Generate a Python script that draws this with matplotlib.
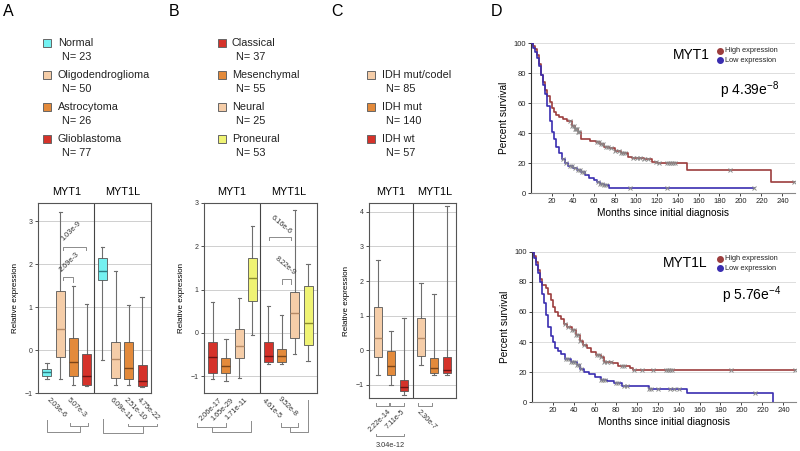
import matplotlib
matplotlib.use("Agg")
import matplotlib.pyplot as plt
import numpy as np
from matplotlib.patches import Rectangle

plt.rcParams['font.family'] = ['Liberation Sans', 'DejaVu Sans']
plt.rcParams['mathtext.default'] = 'regular'

# ---- colours
CYAN, PEACH, ORANGE, RED, YELLOW = '#74F1F1', '#F5CDA8', '#E38A3B', '#D5322A', '#EFF374'
MED = {CYAN: '#2C7F86', PEACH: '#B58A66', ORANGE: '#7A4418', RED: '#6A1414', YELLOW: '#8A8C2E'}
GRAY = '#8c8c8c'
HIGH_C, LOW_C = '#9C3D3D', '#3A2DB0'

# ---- legends
a_names = ["Normal", "Oligodendroglioma", "Astrocytoma", "Glioblastoma"]
a_n = [23, 50, 26, 77]
b_names = ["Classical", "Mesenchymal", "Neural", "Proneural"]
b_n = [37, 55, 25, 53]
c_names = ["IDH mut/codel", "IDH mut", "IDH wt"]
c_n = [85, 140, 57]

# ---- box stats (MYT1 groups then MYT1L groups)
a_lo = [-0.68, -0.67, -0.81, -0.83, -0.23, -0.81, -0.81, -0.85]
a_q1 = [-0.60, -0.16, -0.60, -0.81, 1.62, -0.64, -0.67, -0.84]
a_med = [-0.50, 0.48, -0.29, -0.60, 1.84, -0.22, -0.42, -0.73]
a_q3 = [-0.45, 1.38, 0.27, -0.10, 2.13, 0.19, 0.19, -0.36]
a_hi = [-0.31, 3.22, 1.50, 1.06, 2.40, 1.84, 1.04, 1.24]

b_lo = [-1.07, -1.12, -1.04, -0.04, -0.73, -0.73, -0.49, -0.64]
b_q1 = [-0.93, -0.93, -0.59, 0.73, -0.67, -0.67, -0.13, -0.29]
b_med = [-0.56, -0.77, -0.31, 1.26, -0.53, -0.54, 0.46, 0.22]
b_q3 = [-0.22, -0.57, 0.08, 1.73, -0.21, -0.37, 0.94, 1.09]
b_hi = [0.72, -0.14, 0.81, 2.47, 0.61, 0.41, 2.83, 1.60]

c_lo = [-0.73, -1.00, -1.29, -0.44, -0.71, -0.71]
c_q1 = [-0.20, -0.72, -1.18, -0.18, -0.68, -0.67]
c_med = [0.36, -0.46, -1.08, 0.34, -0.52, -0.57]
c_q3 = [1.24, -0.03, -0.86, 0.93, -0.24, -0.20]
c_hi = [2.60, 0.56, 0.92, 1.94, 1.62, 4.16]

# ---- survival curves (months, percent)
t1_high = [0, 2, 4, 6, 8, 10, 12, 14, 16, 18, 20, 22, 24, 27, 31, 35, 39, 42, 45, 48, 57, 62, 66, 70,
           75, 80, 86, 93, 97, 108, 116, 120, 149, 229.5, 252]
s1_high = [100, 98, 96, 92, 86, 79, 74, 69, 65, 61, 57, 54, 52, 51, 49.5, 48, 45, 43, 41, 36, 35, 34, 33, 31,
           30, 28, 27, 24.5, 23.5, 23, 21, 20.5, 15.5, 7.5, 7.5]
t1_low = [0, 2, 4, 6, 8, 10, 12, 14, 16, 18, 20, 22, 24, 27, 30, 33, 36, 40, 44, 48, 52, 56, 60, 63, 66,
          70, 75, 213]
s1_low = [100, 97, 94, 90, 85, 79, 72, 66, 58, 48, 41, 36, 31, 27, 23, 20, 18.5, 17, 15.5, 14, 12, 10.5, 9,
          7.5, 6.5, 5.5, 3.3, 3.3]
c1_high = [37, 39, 41, 42, 43, 44, 45, 46, 63, 65, 67, 69, 72, 74, 77, 80, 84, 86, 88, 90, 98, 101, 104,
           108, 112, 119, 122, 130, 132, 134, 136, 138, 190, 251]
c1_low = [31, 34, 37, 39, 42, 45, 47, 49, 51, 64, 66, 68, 70, 72, 95, 130, 213]

t2_high = [0, 2, 4, 6, 8, 10, 14, 16, 18, 20, 22, 25, 28, 31, 34, 38, 42, 46, 49, 53, 57, 61, 66, 69, 77,
           82, 94, 97, 252]
s2_high = [100, 97, 93, 88, 82, 78, 76, 72, 68, 63, 60, 57, 55, 52, 50, 48, 45, 41, 38, 36, 33.5, 31.5, 30,
           27, 26, 24, 22.5, 21.5, 21.5]
t2_low = [0, 2, 4, 6, 8, 10, 12, 14, 16, 18, 20, 22, 25, 28, 32, 37, 43, 46, 50, 55, 60, 66, 72, 78, 86,
          100, 112, 148, 230]
s2_low = [100, 96, 91, 86, 80, 72, 66, 58, 50, 44, 40, 36, 34, 32, 29, 27, 25, 22, 20, 18.5, 17, 15, 14,
          12.5, 11, 10.5, 9, 6, 0]
c2_high = [32, 35, 38, 40, 42, 44, 46, 50, 62, 64, 66, 69, 72, 76, 86, 88, 98, 105, 116, 128, 130, 132, 134,
           190, 251]
c2_low = [33, 35, 37, 39, 41, 43, 45, 47, 66, 68, 70, 80, 82, 88, 91, 112, 114, 120, 132, 136, 140, 213]

W, H = 800, 451
fig = plt.figure(figsize=(8, 4.51), dpi=100)


def rect(l, t, r, b):
    return [l / W, 1 - b / H, (r - l) / W, (b - t) / H]


def fx(x):
    return x / W


def fy(y):
    return 1 - y / H


# panel letters
for letter, x, y in [("A", 3, 12), ("B", 169, 12), ("C", 331, 12), ("D", 491, 12)]:
    fig.text(fx(x), fy(y), letter, fontsize=11.5, va='center', ha='left')


def legend(x_sq, x_txt, y0, names, ns, colors):
    for i, (nm, n, c) in enumerate(zip(names, ns, colors)):
        yc = y0 + 32 * i
        fig.add_artist(Rectangle((fx(x_sq), fy(yc + 4)), 8 / W, 8 / H, transform=fig.transFigure,
                                 facecolor=c, edgecolor='#666666', lw=0.7))
        fig.text(fx(x_txt), fy(yc), nm, fontsize=7.8, va='center', ha='left', color='#222222')
        fig.text(fx(x_txt + 4), fy(yc + 14), "N= %d" % n, fontsize=7.8, va='center', ha='left',
                 color='#222222')


legend(43, 58, 43, a_names, a_n, [CYAN, PEACH, ORANGE, RED])
legend(218, 232, 43, b_names, b_n, [RED, ORANGE, PEACH, YELLOW])
legend(367, 382, 75, c_names, c_n, [PEACH, ORANGE, RED])


def box_panel(r, pos, lo, q1, med, q3, hi, colors, xlim, ylim, yticks, divider, mids):
    ax = fig.add_axes(rect(*r))
    stats = [dict(whislo=a, q1=b, med=c, q3=d, whishi=e) for a, b, c, d, e in zip(lo, q1, med, q3, hi)]
    bp = ax.bxp(stats, positions=pos, widths=0.68, patch_artist=True, showfliers=False,
                capwidths=0.25, manage_ticks=False)
    for patch, c in zip(bp['boxes'], colors):
        patch.set_facecolor(c)
        patch.set_edgecolor('#555555')
        patch.set_linewidth(0.6)
        patch.set_zorder(3)
    for m, c in zip(bp['medians'], colors):
        m.set_color(MED[c])
        m.set_linewidth(1.0)
        m.set_zorder(4)
    for w in bp['whiskers'] + bp['caps']:
        w.set_color('#6e6e6e')
        w.set_linewidth(0.8)
    ax.set_xlim(*xlim)
    ax.set_ylim(*ylim)
    ax.set_yticks(yticks)
    ax.set_xticks([])
    ax.tick_params(axis='y', labelsize=5, length=2, width=0.6, pad=2, colors='#333333')
    ax.yaxis.grid(True, color='#cfcfcf', lw=0.7)
    ax.set_axisbelow(True)
    for sp in ax.spines.values():
        sp.set_color('#555555')
        sp.set_linewidth(0.8)
    ax.axvline(divider, color='#444444', lw=0.8)
    tr = ax.get_xaxis_transform()
    ax.text(mids[0], 1.058, "MYT1", transform=tr, ha='center', va='center', fontsize=7.8)
    ax.text(mids[1], 1.058, "MYT1L", transform=tr, ha='center', va='center', fontsize=7.8)
    ax.set_ylabel("Relative expression", fontsize=5.8, labelpad=4)
    return ax


def bracket(ax, x1, x2, y, y1, y2):
    ax.plot([x1, x1, x2, x2], [y1, y, y, y2], color=GRAY, lw=0.7, clip_on=False, zorder=5)


def ptext(ax, x, y, s, rot, ha, va, fs=5.3):
    ax.text(x, y, s, rotation=rot, rotation_mode='anchor', ha=ha, va=va, fontsize=fs,
            color='#333333', clip_on=False)


pos8 = [1, 2, 3, 4, 5.2, 6.2, 7.2, 8.2]
pos6 = [1, 2, 3, 4.3, 5.3, 6.3]

# ---- panel A
axA = box_panel((38, 203, 151, 393), pos8, a_lo, a_q1, a_med, a_q3, a_hi,
                [CYAN, PEACH, ORANGE, RED] * 2, (0.32, 8.88), (-1, 3.42), [-1, 0, 1, 2, 3], 4.6,
                (2.46, 6.74))
bracket(axA, 2.19, 3.96, 2.40, 2.33, 2.33)
ptext(axA, 2.36, 2.50, "1.03e-9", 45, 'left', 'bottom')
bracket(axA, 2.19, 2.95, 1.70, 1.63, 1.59)
ptext(axA, 2.25, 1.78, "2.69e-3", 45, 'left', 'bottom')
for x, s in zip([1.23, 2.80, 6.03, 7.04, 8.05], ["2.03e-6", "5.07e-3", "6.09e-11", "2.51e-10", "4.75e-22"]):
    ptext(axA, x, -1.08, s, -45, 'left', 'top')
bracket(axA, 2.74, 4.13, -1.77, -1.69, -1.69)
bracket(axA, 0.98, 3.50, -1.90, -1.63, -1.77)
bracket(axA, 7.17, 9.32, -1.77, -1.71, -1.71)
bracket(axA, 5.27, 8.25, -1.92, -1.61, -1.77)

# ---- panel B
axB = box_panel((204, 203, 317, 393), pos8, b_lo, b_q1, b_med, b_q3, b_hi,
                [RED, ORANGE, PEACH, YELLOW] * 2, (0.34, 8.88), (-1.39, 3.0), [-1, 0, 1, 2, 3], 4.6,
                (2.47, 6.74))
bracket(axB, 5.23, 6.92, 2.21, 2.15, 2.15)
ptext(axB, 5.25, 2.62, "6.16e-6", -40, 'left', 'bottom')
bracket(axB, 6.21, 6.92, 1.24, 1.14, 1.14)
ptext(axB, 5.55, 1.66, "8.22e-9", -40, 'left', 'bottom')
for x, s in zip([1.43, 2.36, 3.39], ["2.06e-17", "1.65e-29", "1.71e-11"]):
    ptext(axB, x, -1.47, s, 45, 'right', 'top')
for x, y, s in zip([4.95, 6.14], [-1.49, -1.45], ["4.61e-5", "9.52e-8"]):
    ptext(axB, x, y, s, -45, 'left', 'top')
bracket(axB, -0.16, 2.01, -2.17, -2.09, -2.09)
bracket(axB, 0.92, 3.90, -2.30, -2.17, -2.03)
bracket(axB, 6.16, 7.47, -2.17, -2.09, -2.09)
bracket(axB, 6.84, 8.18, -2.30, -2.17, -1.56)

# ---- panel C
axC = box_panel((369, 203, 456, 398), pos6, c_lo, c_q1, c_med, c_q3, c_hi,
                [PEACH, ORANGE, RED] * 2, (0.31, 6.99), (-1.39, 4.26), [-1, 0, 1, 2, 3, 4], 3.65,
                (1.98, 5.32))
for x1, x2 in [(0.87, 1.85), (1.95, 2.98), (4.08, 5.11)]:
    bracket(axC, x1, x2, -1.63, -1.54, -1.54)
for x, s in zip([1.77, 2.80], ["2.22e-14", "7.11e-5"]):
    ptext(axC, x, -1.68, s, 45, 'right', 'top')
ptext(axC, 4.26, -1.68, "2.30e-7", -45, 'left', 'top')
bracket(axC, 0.87, 2.98, -2.50, -2.43, -2.43)
axC.text(1.93, -2.77, "3.04e-12", ha='center', va='center', fontsize=5.3, color='#333333', clip_on=False)


# ---- panel D survival
def surv_panel(r, th, sh, tl, sl, ch, cl, gene, ptxt, gene_xy, p_xy, leg_y):
    ax = fig.add_axes(rect(*r))
    for t, s, c, cens in [(th, sh, HIGH_C, ch), (tl, sl, LOW_C, cl)]:
        ax.step(t, s, where='post', color=c, lw=1.2, zorder=3)
        t_arr, s_arr = np.array(t), np.array(s)
        idx = np.searchsorted(t_arr, cens, side='right') - 1
        ax.plot(cens, s_arr[idx], 'x', color='#8a8a8a', ms=3.2, mew=0.7, zorder=4)
    ax.set_xlim(0, 252)
    ax.set_ylim(0, 100)
    ax.set_xticks(range(20, 241, 20))
    ax.set_yticks(range(0, 101, 20))
    ax.yaxis.grid(True, color='#dddddd', lw=0.7)
    ax.set_axisbelow(True)
    ax.tick_params(labelsize=5.5, length=2, width=0.6, pad=1.5, colors='#222222')
    ax.spines['top'].set_visible(False)
    ax.spines['right'].set_visible(False)
    ax.spines['left'].set_color('#333333')
    ax.spines['bottom'].set_color('#888888')
    ax.set_xlabel("Months since initial diagnosis", fontsize=7.3, labelpad=2)
    ax.set_ylabel("Percent survival", fontsize=7.3, labelpad=3)
    fig.text(fx(gene_xy[0]), fy(gene_xy[1]), gene, fontsize=10, ha='right', va='center')
    fig.text(fx(p_xy[0]), fy(p_xy[1]), ptxt, fontsize=10, ha='left', va='center')
    for yy, c, lab in [(leg_y, HIGH_C, "High expression"), (leg_y + 9.3, LOW_C, "Low expression")]:
        ax.plot([fx(719.5)], [fy(yy)], 'o', color=c, ms=4, transform=fig.transFigure, clip_on=False)
        fig.text(fx(725), fy(yy), lab, fontsize=5.3, ha='left', va='center', color='#222222')
    return ax


surv_panel((530.7, 43.3, 795, 193.3), t1_high, s1_high, t1_low, s1_low, c1_high, c1_low,
           "MYT1", r"p 4.39e$^{-8}$", (710, 55), (720, 90), 50.7)
surv_panel((531.7, 251.7, 796, 402.3), t2_high, s2_high, t2_low, s2_low, c2_high, c2_low,
           "MYT1L", r"p 5.76e$^{-4}$", (708, 263), (722, 295), 259)

fig.savefig("out.png", dpi=100)
